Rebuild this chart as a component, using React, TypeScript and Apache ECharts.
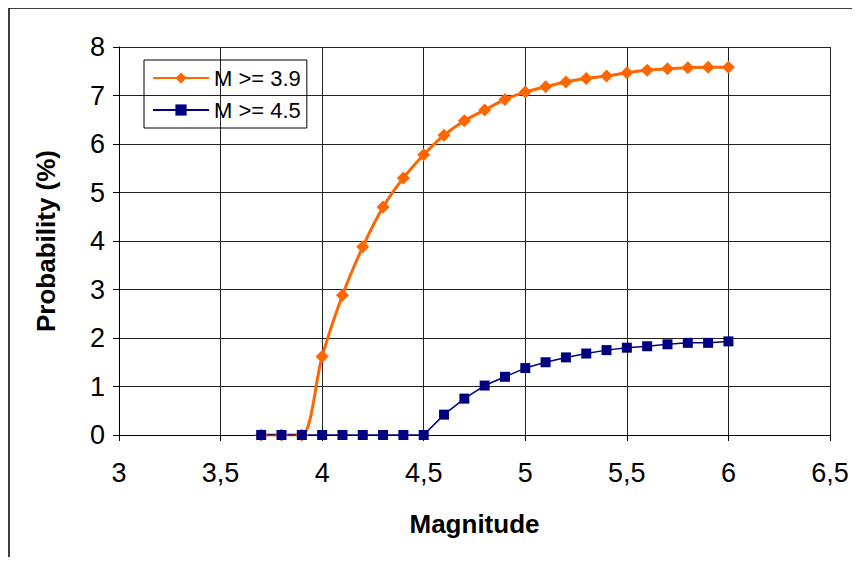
import { useEffect, useRef } from "react";
import * as echarts from "echarts";

const magnitudes = [3.7, 3.8, 3.9, 4.0, 4.1, 4.2, 4.3, 4.4, 4.5, 4.6, 4.7, 4.8, 4.9, 5.0, 5.1, 5.2, 5.3, 5.4, 5.5, 5.6, 5.7, 5.8, 5.9, 6.0];
const m39 = [0, 0, 0, 1.62, 2.88, 3.88, 4.7, 5.3, 5.78, 6.18, 6.48, 6.7, 6.92, 7.07, 7.18, 7.28, 7.35, 7.4, 7.47, 7.52, 7.55, 7.57, 7.58, 7.58];
const m45 = [0, 0, 0, 0, 0, 0, 0, 0, 0, 0.42, 0.75, 1.02, 1.2, 1.38, 1.5, 1.6, 1.68, 1.75, 1.8, 1.83, 1.87, 1.9, 1.9, 1.93];

const font = "'Liberation Sans', Arial, sans-serif";

export default function App() {
  const ref = useRef<HTMLDivElement | null>(null);

  useEffect(() => {
    if (!ref.current) return;
    const chart = echarts.init(ref.current, undefined, { renderer: "svg" });
    const option: echarts.EChartsOption = {
      animation: false,
      backgroundColor: "#fff",
      textStyle: { fontFamily: font },
      grid: { left: 111, right: 30, top: 39, bottom: 122 },
      graphic: [
        { type: "rect", shape: { x: 1, y: 0, width: 850, height: 570 }, style: { fill: "none", stroke: "#000", lineWidth: 1.5 } }
      ],
      legend: {
        orient: "vertical",
        left: 136,
        top: 52,
        itemWidth: 56,
        itemHeight: 14,
        itemGap: 10,
        padding: [7, 6, 7, 8],
        borderColor: "#000",
        borderWidth: 1,
        textStyle: { fontSize: 22, color: "#000", fontFamily: font },
        data: ["M >= 3.9", "M >= 4.5"]
      },
      xAxis: {
        type: "value",
        min: 3,
        max: 6.5,
        interval: 0.5,
        name: "Magnitude",
        nameLocation: "middle",
        nameGap: 76,
        nameTextStyle: { fontSize: 26, fontWeight: "bold", color: "#000", fontFamily: font },
        axisLine: { show: true, lineStyle: { color: "#000" } },
        axisTick: { show: true, length: 6, lineStyle: { color: "#000" } },
        axisLabel: { fontSize: 27, color: "#000", margin: 24, fontFamily: font, formatter: (v: number) => String(v).replace(".", ",") },
        splitLine: { show: true, lineStyle: { color: "#222", width: 1 } }
      },
      yAxis: {
        type: "value",
        min: 0,
        max: 8,
        interval: 1,
        name: "Probability (%)",
        nameLocation: "middle",
        nameGap: 60,
        nameTextStyle: { fontSize: 26, fontWeight: "bold", color: "#000", fontFamily: font },
        axisLine: { show: true, lineStyle: { color: "#000" } },
        axisTick: { show: true, length: 6, lineStyle: { color: "#000" } },
        axisLabel: { fontSize: 27, color: "#000", margin: 14, fontFamily: font },
        splitLine: { show: true, lineStyle: { color: "#222", width: 1 } }
      },
      series: [
        {
          name: "M >= 3.9",
          type: "line",
          smooth: 0.3,
          data: magnitudes.map((m, i) => [m, m39[i]]),
          symbol: "diamond",
          symbolSize: 13,
          lineStyle: { color: "#ff6600", width: 3 },
          itemStyle: { color: "#ff6600" }
        },
        {
          name: "M >= 4.5",
          type: "line",
          data: magnitudes.map((m, i) => [m, m45[i]]),
          symbol: "rect",
          symbolSize: 10,
          lineStyle: { color: "#000080", width: 1.5 },
          itemStyle: { color: "#000080" }
        }
      ]
    };
    chart.setOption(option);
    return () => chart.dispose();
  }, []);

  return <div ref={ref} style={{ width: 852, height: 549 }} />;
}
